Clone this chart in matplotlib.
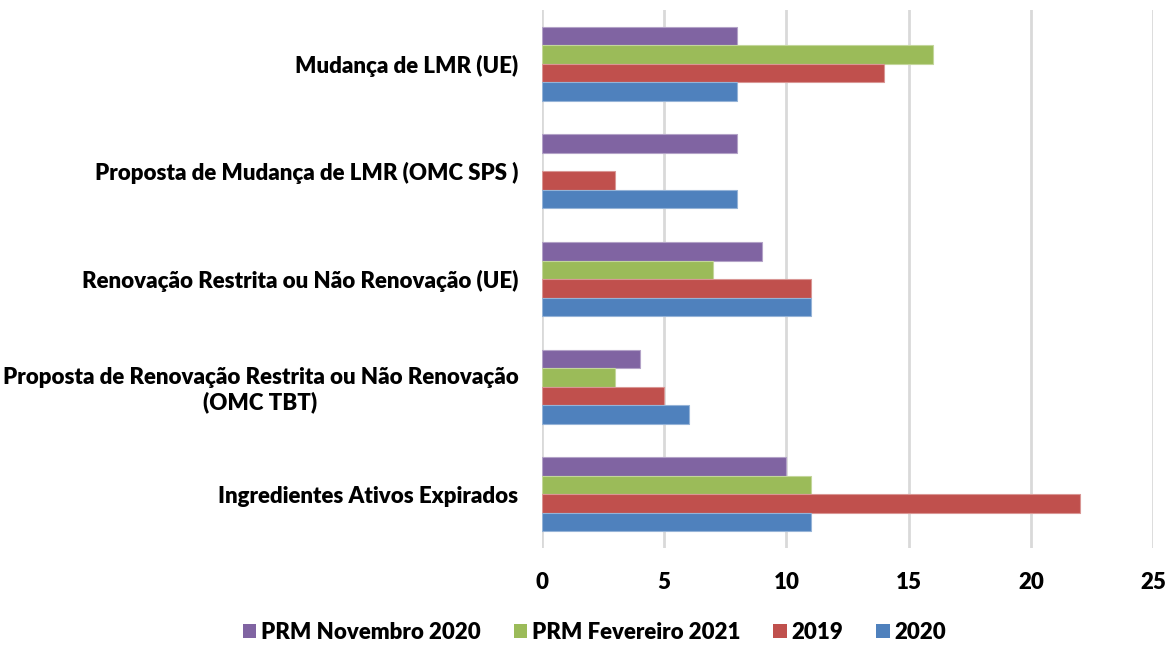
import matplotlib
matplotlib.use('Agg')

import numpy as np
import matplotlib.pyplot as plt
from matplotlib.patches import Patch

# categories, from bottom to top as drawn
categories = ['Ingredientes Ativos Expirados',
              'Proposta de Renovação Restrita ou Não Renovação\n(OMC TBT)',
              'Renovação Restrita ou Não Renovação (UE)',
              'Proposta de Mudança de LMR (OMC SPS )',
              'Mudança de LMR (UE)']

series_names = ['PRM Novembro 2020', 'PRM Fevereiro 2021', '2019', '2020']
prm_nov_2020 = [10, 4, 9, 8, 8]
prm_fev_2021 = [11, 3, 7, 0, 16]
y2019        = [22, 5, 11, 3, 14]
y2020        = [11, 6, 11, 8, 8]

colors = ['#8064A2', '#9BBB59', '#C0504D', '#4F81BD']
edges  = ['#B3A2C7', '#C3D69B', '#D99694', '#95B3D7']

plt.rcParams['font.family'] = ['Lato', 'DejaVu Sans']
plt.rcParams['font.weight'] = 'heavy'

fig = plt.figure(figsize=(11.7, 6.46), dpi=100)
ax = fig.add_axes([0.4632, 0.1517, 0.5223, 0.8328])

y = np.arange(len(categories))
h = 0.172
offsets = [1.5*h, 0.5*h, -0.5*h, -1.5*h]
for vals, off, c, ec in zip([prm_nov_2020, prm_fev_2021, y2019, y2020], offsets, colors, edges):
    vals = np.array(vals)
    # Excel draws nothing for a zero value
    ax.barh(y + off, vals, height=h, color=c,
            edgecolor=[ec if v > 0 else 'none' for v in vals], linewidth=0.8, zorder=3)

ax.set_xlim(0, 25)
ax.set_ylim(-0.5, len(categories) - 0.5)
ax.set_xticks(np.arange(0, 26, 5))
ax.set_yticks(y)
ax.set_yticklabels(categories, fontsize=16, fontweight='heavy', ha='right', multialignment='center')
ax.tick_params(axis='x', labelsize=16, length=0, pad=17)
ax.tick_params(axis='y', length=0, pad=17)
for lab in ax.get_xticklabels():
    lab.set_fontweight('heavy')
ax.grid(axis='x', color='#D9D9D9', linewidth=2, zorder=0)
for s in ax.spines.values():
    s.set_visible(False)

handles = [Patch(facecolor=c, edgecolor='none') for c in colors]
fig.legend(handles, series_names, loc='center', bbox_to_anchor=(0.508, 0.021), ncol=4,
           frameon=False, prop={'size': 16, 'weight': 'heavy'},
           handlelength=0.6, handleheight=0.6, handletextpad=0.2, columnspacing=1.5)

fig.savefig('out.png', dpi=100)
